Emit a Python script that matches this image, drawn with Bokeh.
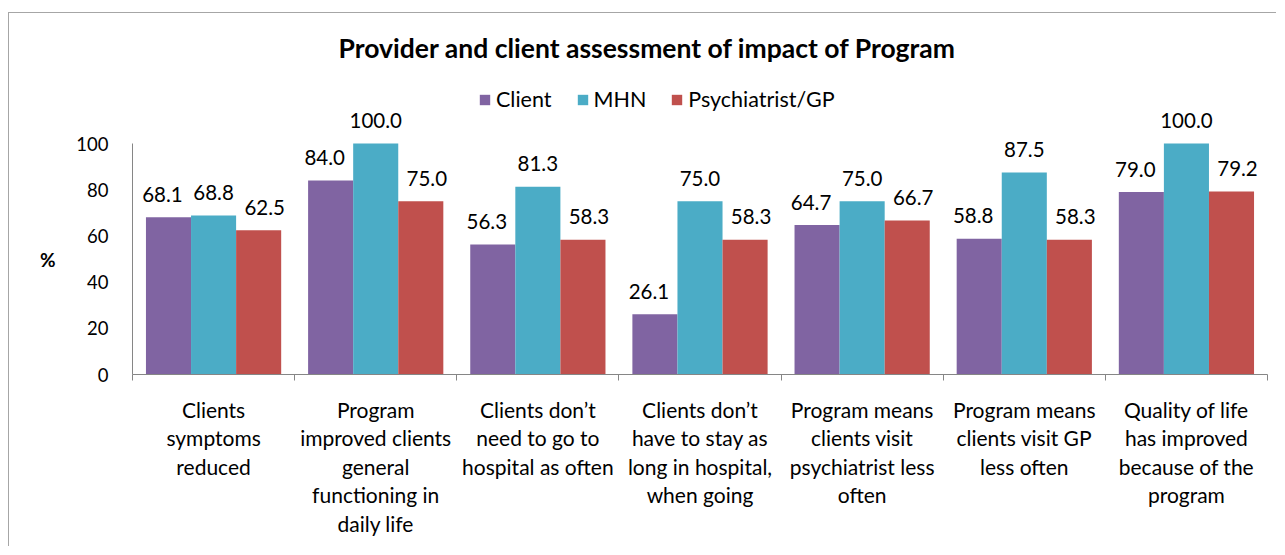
from bokeh.plotting import figure
from bokeh.models import (FactorRange, Range1d, LinearAxis, CategoricalAxis, FixedTicker,
                          ColumnDataSource, LabelSet, Label, Legend, LegendItem)
from bokeh.core.properties import value
from bokeh.transform import dodge
from bokeh.embed import file_html
from bokeh.resources import INLINE

# ---------------- data ----------------
categories = [
    "Clients\nsymptoms\nreduced",
    "Program\nimproved clients\ngeneral\nfunctioning in\ndaily life",
    "Clients don\u2019t\nneed to go to\nhospital as often",
    "Clients don\u2019t\nhave to stay as\nlong in hospital,\nwhen going",
    "Program means\nclients visit\npsychiatrist less\noften",
    "Program means\nclients visit GP\nless often",
    "Quality of life\nhas improved\nbecause of the\nprogram",
]
series_names = ["Client", "MHN", "Psychiatrist/GP"]
client = [68.1, 84.0, 56.3, 26.1, 64.7, 58.8, 79.0]
mhn = [68.8, 100.0, 81.3, 75.0, 75.0, 87.5, 100.0]
psychiatrist_gp = [62.5, 75.0, 58.3, 58.3, 66.7, 58.3, 79.2]
y_ticks = [0, 20, 40, 60, 80, 100]
title_text = "Provider and client assessment of impact of Program"
y_label = "%"

# ---------------- style ----------------
colors = ["#8064A2", "#4BACC6", "#C0504D"]
FONT = "Lato"
TXT = "#000000"
AXC = "#868686"

W, H = 1268, 534
FL, FR, FB = 123, 1258, 361      # frame left/right/bottom in canvas px
Y100 = 130                       # canvas px of the 100 % line
ymin, ymax_axis = y_ticks[0], y_ticks[-1]
ytop = ymax_axis * FB / (FB - Y100)   # frame reaches the canvas top

p = figure(width=W, height=H,
           x_range=FactorRange(factors=categories, range_padding=0),
           y_range=Range1d(ymin, ytop),
           x_axis_location=None, title=None,
           output_backend="svg", toolbar_location=None,
           min_border_left=FL, min_border_right=W - FR,
           min_border_top=0, min_border_bottom=H - FB)
p.outline_line_color = None
p.grid.visible = False
p.background_fill_color = "white"
p.border_fill_color = "white"
p.styles = {"border-left": "1px solid #a6a6a6", "border-top": "1px solid #a6a6a6",
            "margin-top": "12px", "margin-left": "8px"}

# y axis (0..100)
ya = p.yaxis[0]
ya.ticker = FixedTicker(ticks=y_ticks)
ya.bounds = (ymin, ymax_axis)
ya.major_tick_line_color = None
ya.major_tick_out = 0
ya.major_tick_in = 0
ya.minor_tick_line_color = None
ya.axis_line_color = AXC
ya.major_label_standoff = 24
ya.major_label_text_font = FONT
ya.major_label_text_font_size = "18.5px"
ya.major_label_text_color = TXT

# "%" label as a second, outer left axis centred on the 0..100 span
mid = (ymin + ymax_axis) / 2
pa = LinearAxis(ticker=FixedTicker(ticks=[mid]), major_label_overrides={mid: y_label},
                axis_line_color=None, major_tick_line_color=None, major_tick_out=0,
                major_tick_in=0, minor_tick_line_color=None, major_label_standoff=18,
                major_label_text_font=FONT, major_label_text_font_style="bold",
                major_label_text_font_size="19px", major_label_text_color=TXT)
p.add_layout(pa, "left")

# x axis: ticks at category boundaries (synthetic coordinates 0..n)
n = len(categories)
xa = LinearAxis(ticker=FixedTicker(ticks=list(range(n + 1))),
                major_tick_in=0, major_tick_out=6, minor_tick_line_color=None,
                major_label_text_color=None, major_label_text_font_size="0px",
                major_label_standoff=0,
                axis_line_color=AXC, major_tick_line_color=AXC)
p.add_layout(xa, "below")
# category labels
ca = CategoricalAxis(axis_line_color=None, major_tick_line_color=None, major_tick_out=0,
                     major_tick_in=0, minor_tick_line_color=None, major_label_standoff=16,
                     major_label_text_font=FONT, major_label_text_font_size="21px",
                     major_label_text_line_height=1.14, major_label_text_color=TXT)
p.add_layout(ca, "below")

# bars
src = ColumnDataSource(dict(cat=categories, s0=client, s1=mhn, s2=psychiatrist_gp,
                            t0=[f"{v:.1f}" for v in client],
                            t1=[f"{v:.1f}" for v in mhn],
                            t2=[f"{v:.1f}" for v in psychiatrist_gp]))
bw = 0.278
offsets = [-bw, 0.0, bw]
label_dx = [-6, 0, 6]
renderers = []
for i, (off, c) in enumerate(zip(offsets, colors)):
    r = p.vbar(x=dodge("cat", off, range=p.x_range), top=f"s{i}", width=bw,
               source=src, fill_color=c, line_color=None)
    renderers.append(r)
    ls = LabelSet(x=dodge("cat", off, range=p.x_range), y=f"s{i}", text=f"t{i}",
                  source=src, y_offset=23, x_offset=label_dx[i],
                  text_align="center", text_baseline="middle",
                  text_font=value(FONT), text_font_size="20.5px", text_color=TXT)
    p.add_layout(ls)

# title
p.add_layout(Label(x=515, y=FB - 34, x_units="screen", y_units="screen", text=title_text,
                   text_align="center", text_baseline="middle", text_font=FONT,
                   text_font_style="bold", text_font_size="26.5px", text_color=TXT))

# legend
legend = Legend(items=[LegendItem(label=nm, renderers=[r]) for nm, r in zip(series_names, renderers)],
                orientation="horizontal", location=(346, FB - 99),
                border_line_color=None, background_fill_alpha=0, padding=0, margin=0,
                glyph_height=13, glyph_width=13, label_standoff=5, spacing=24,
                label_text_font=FONT, label_text_font_size="21.5px", label_text_color=TXT)
p.add_layout(legend)

open("out.html", "w").write(file_html(p, INLINE))
